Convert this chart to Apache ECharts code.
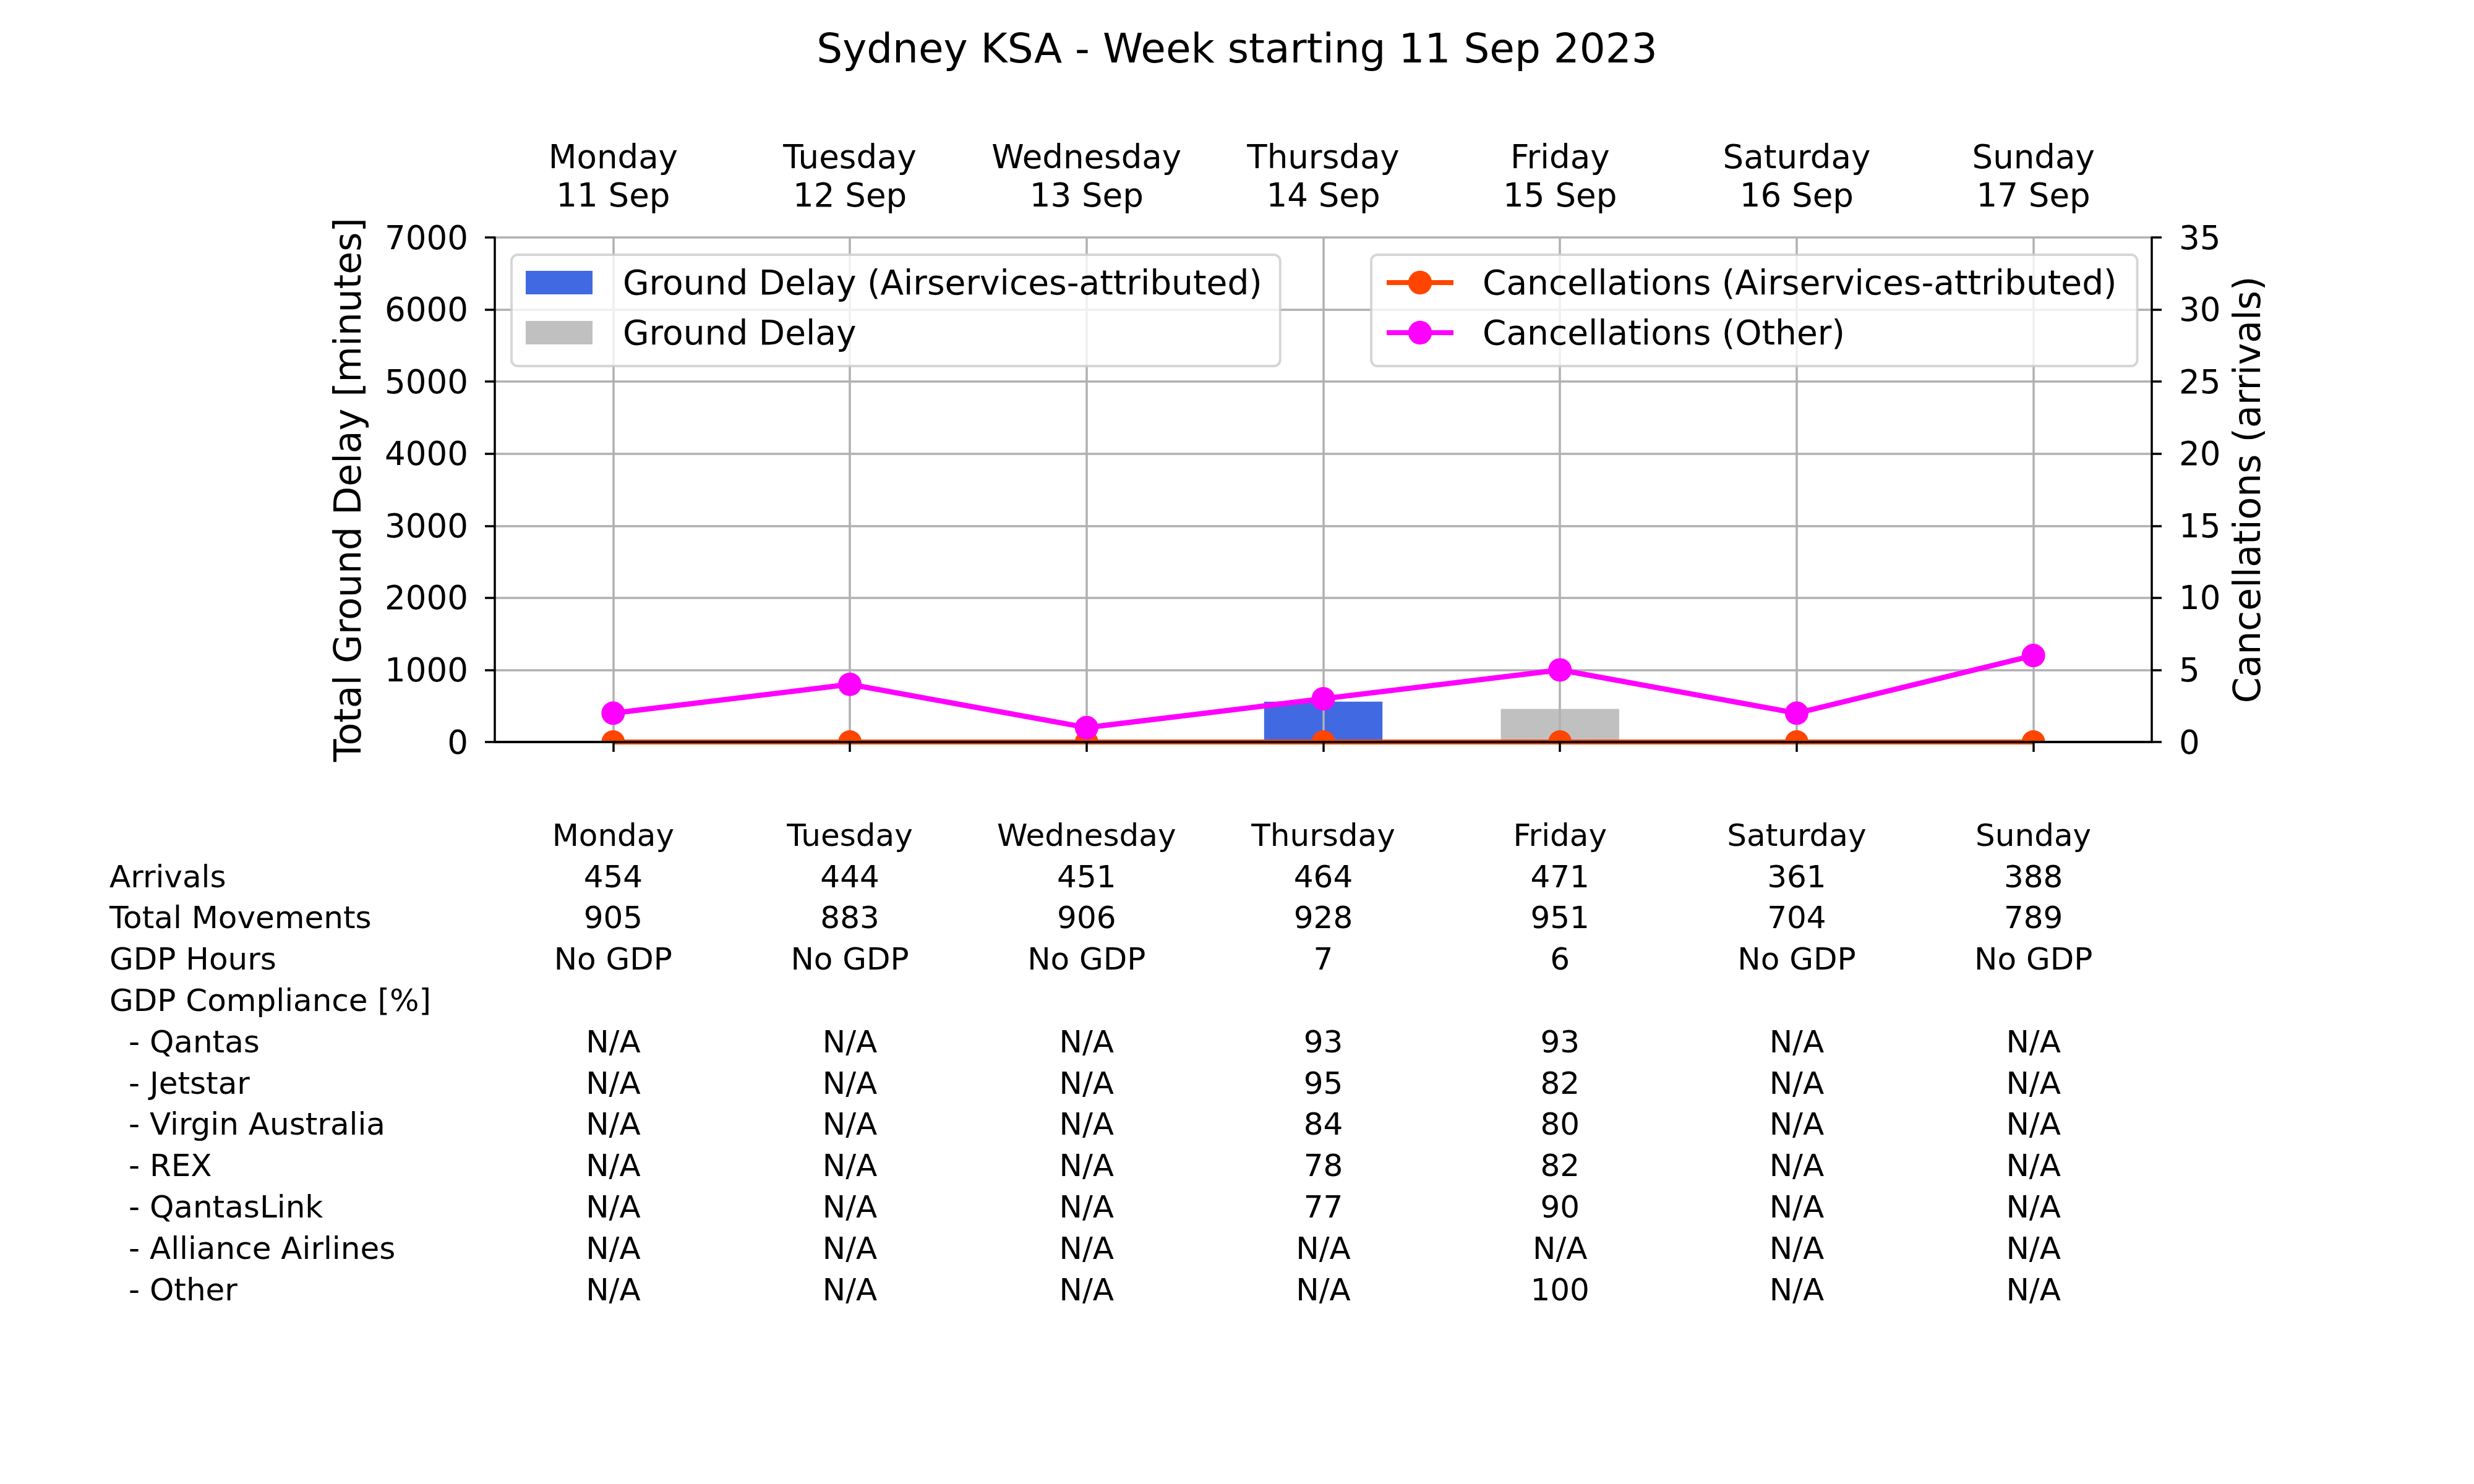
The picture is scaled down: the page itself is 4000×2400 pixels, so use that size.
<!DOCTYPE html>
<html>
<head>
<meta charset="utf-8">
<script src="https://cdn.jsdelivr.net/npm/echarts@6/dist/echarts.min.js"></script>
<style>html,body{margin:0;padding:0;background:#fff}#chart{width:4000px;height:2400px}</style>
</head>
<body>
<div id="chart"></div>
<script>
// ---------------- data ----------------
const days = ['Monday', 'Tuesday', 'Wednesday', 'Thursday', 'Friday', 'Saturday', 'Sunday'];
const dates = ['11 Sep', '12 Sep', '13 Sep', '14 Sep', '15 Sep', '16 Sep', '17 Sep'];
const groundDelayAirservices = [0, 0, 0, 560, 0, 0, 0];
const groundDelayOther = [0, 0, 0, 0, 460, 0, 0];
const cancellationsAirservices = [0, 0, 0, 0, 0, 0, 0];
const cancellationsOther = [2, 4, 1, 3, 5, 2, 6];
const delayAxisMax = 7000, delayAxisStep = 1000;
const cancelAxisMax = 35, cancelAxisStep = 5;

const arrivals = [454, 444, 451, 464, 471, 361, 388];
const totalMovements = [905, 883, 906, 928, 951, 704, 789];
const gdpHours = ['No GDP', 'No GDP', 'No GDP', '7', '6', 'No GDP', 'No GDP'];
const complianceQantas = ['N/A', 'N/A', 'N/A', '93', '93', 'N/A', 'N/A'];
const complianceJetstar = ['N/A', 'N/A', 'N/A', '95', '82', 'N/A', 'N/A'];
const complianceVirgin = ['N/A', 'N/A', 'N/A', '84', '80', 'N/A', 'N/A'];
const complianceRex = ['N/A', 'N/A', 'N/A', '78', '82', 'N/A', 'N/A'];
const complianceQantasLink = ['N/A', 'N/A', 'N/A', '77', '90', 'N/A', 'N/A'];
const complianceAlliance = ['N/A', 'N/A', 'N/A', 'N/A', 'N/A', 'N/A', 'N/A'];
const complianceOther = ['N/A', 'N/A', 'N/A', 'N/A', '100', 'N/A', 'N/A'];

const tableRows = [
  { label: 'Arrivals', values: arrivals },
  { label: 'Total Movements', values: totalMovements },
  { label: 'GDP Hours', values: gdpHours },
  { label: 'GDP Compliance [%]', values: null },
  { label: '- Qantas', values: complianceQantas, sub: true },
  { label: '- Jetstar', values: complianceJetstar, sub: true },
  { label: '- Virgin Australia', values: complianceVirgin, sub: true },
  { label: '- REX', values: complianceRex, sub: true },
  { label: '- QantasLink', values: complianceQantasLink, sub: true },
  { label: '- Alliance Airlines', values: complianceAlliance, sub: true },
  { label: '- Other', values: complianceOther, sub: true }
];

// ---------------- chart ----------------
const FONT = 'DejaVu Sans';
const chart = echarts.init(document.getElementById('chart'), null, { renderer: 'svg', width: 4000, height: 2400 });
const blackLine = { color: '#000', width: 3.5 };
const gridGrey = '#b0b0b0';
const semicircle = 'path://M0,20 A20,20 0 0 1 40,20 Z';
const plain = v => String(v);

const legendCommon = {
  orient: 'vertical', top: 412, itemWidth: 108, itemGap: 21,
  backgroundColor: 'rgba(255,255,255,0.8)',
  borderColor: 'rgba(204,204,204,0.8)', borderWidth: 4, borderRadius: 10,
  selectedMode: false
};

const option = {
  animation: false,
  backgroundColor: '#ffffff',
  textStyle: { fontFamily: FONT, color: '#000' },
  title: {
    text: 'Sydney KSA - Week starting 11 Sep 2023',
    left: 'center', top: 45, padding: 0,
    textStyle: { fontFamily: FONT, fontSize: 66, fontWeight: 'normal', color: '#000' }
  },
  grid: { left: 800, right: 521, top: 384, bottom: 1200, containLabel: false },
  legend: [
    Object.assign({}, legendCommon, {
      data: ['Ground Delay (Airservices-attributed)', 'Ground Delay'],
      left: 827, icon: 'rect', itemHeight: 38,
      padding: [15, 29, 24, 23],
      textStyle: { fontFamily: FONT, fontSize: 55, color: '#000', lineHeight: 60, padding: [0, 0, 0, 44] }
    }),
    Object.assign({}, legendCommon, {
      data: ['Cancellations (Airservices-attributed)', 'Cancellations (Other)'],
      left: 2217, itemHeight: 48,
      padding: [15, 33, 24, 21],
      lineStyle: { width: 8 },
      textStyle: { fontFamily: FONT, fontSize: 55, color: '#000', lineHeight: 60, padding: [0, 0, 0, 42] }
    })
  ],
  xAxis: [
    {
      type: 'category', data: days, position: 'bottom', z: 10,
      axisLine: { show: true, lineStyle: blackLine },
      axisTick: { show: true, alignWithLabel: true, interval: 0, length: 16, lineStyle: blackLine },
      axisLabel: { show: false },
      splitLine: { show: false }
    },
    {
      type: 'category', data: days, position: 'top', z: 10,
      axisLine: { show: true, lineStyle: blackLine },
      axisTick: { show: false },
      axisLabel: {
        show: true, interval: 0, fontFamily: FONT, fontSize: 53, lineHeight: 62, margin: 38, color: '#000',
        formatter: (v, i) => v + '\n' + dates[i]
      },
      splitLine: { show: false }
    }
  ],
  yAxis: [
    {
      type: 'value', position: 'left', min: 0, max: delayAxisMax, interval: delayAxisStep,
      name: 'Total Ground Delay [minutes]', nameLocation: 'middle', nameGap: 208, nameRotate: 90,
      nameTextStyle: { fontFamily: FONT, fontSize: 60, color: '#000' },
      axisLine: { show: true, lineStyle: blackLine },
      axisTick: { show: true, length: 16, lineStyle: blackLine },
      axisLabel: { fontFamily: FONT, fontSize: 53, color: '#000', margin: 43, formatter: plain },
      splitLine: { show: true, lineStyle: { color: gridGrey, width: 3.5 } }
    },
    {
      type: 'value', position: 'right', min: 0, max: cancelAxisMax, interval: cancelAxisStep,
      name: 'Cancellations (arrivals)', nameLocation: 'middle', nameGap: 124, nameRotate: 90,
      nameTextStyle: { fontFamily: FONT, fontSize: 60, color: '#000' },
      axisLine: { show: true, lineStyle: blackLine },
      axisTick: { show: true, length: 16, lineStyle: blackLine },
      axisLabel: { fontFamily: FONT, fontSize: 53, color: '#000', margin: 44, formatter: plain },
      splitLine: { show: false }
    }
  ],
  series: [
    {
      name: 'Ground Delay (Airservices-attributed)', type: 'bar', stack: 'delay',
      xAxisIndex: 0, yAxisIndex: 0, barWidth: '50%', z: 2,
      itemStyle: { color: '#4169e1' },
      data: groundDelayAirservices,
      markLine: {
        silent: true, z: 2.5, symbol: ['none', 'none'], animation: false,
        label: { show: false },
        lineStyle: { color: gridGrey, width: 3.5, type: 'solid' },
        emphasis: { disabled: true },
        data: days.map(d => ({ xAxis: d }))
      }
    },
    {
      name: 'Ground Delay', type: 'bar', stack: 'delay',
      xAxisIndex: 0, yAxisIndex: 0, barWidth: '50%', z: 2,
      itemStyle: { color: '#c0c0c0' },
      data: groundDelayOther
    },
    {
      // legend icon provider (full circle marker), draws nothing
      name: 'Cancellations (Airservices-attributed)', type: 'line',
      xAxisIndex: 0, yAxisIndex: 1, z: 3,
      symbol: 'circle', symbolSize: 38,
      itemStyle: { color: '#ff4500' }, lineStyle: { color: '#ff4500', width: 8 },
      data: []
    },
    {
      name: 'Cancellations (Airservices-attributed)', type: 'line',
      xAxisIndex: 0, yAxisIndex: 1, z: 3,
      symbol: semicircle, symbolSize: [38, 19], symbolOffset: [0, '-50%'],
      itemStyle: { color: '#ff4500' }, lineStyle: { color: '#ff4500', width: 8 },
      data: cancellationsAirservices
    },
    {
      name: 'Cancellations (Other)', type: 'line',
      xAxisIndex: 0, yAxisIndex: 1, z: 3,
      symbol: 'circle', symbolSize: 38,
      itemStyle: { color: '#ff00ff' }, lineStyle: { color: '#ff00ff', width: 8.5 },
      data: cancellationsOther
    }
  ]
};
chart.setOption(option);

// ---------------- table under the chart ----------------
const TABLE_FONT = 50;
const HEADER_BASELINE = 1368;
const ROW_STEP = 66.8;
const LABEL_X = 177;
const SUB_LABEL_X = 208;
const MID_SHIFT = 0.346 * TABLE_FONT;
const colX = days.map(d => chart.convertToPixel({ xAxisIndex: 0 }, d));

function cell(text, x, baseline, align) {
  return {
    type: 'text', x: x, y: baseline - MID_SHIFT, silent: true,
    style: { text: String(text), fontFamily: FONT, fontSize: TABLE_FONT, fill: '#000', align: align, verticalAlign: 'middle' }
  };
}
const elements = [];
days.forEach((d, i) => elements.push(cell(d, colX[i], HEADER_BASELINE, 'center')));
tableRows.forEach((row, r) => {
  const base = HEADER_BASELINE + (r + 1) * ROW_STEP;
  elements.push(cell(row.label, row.sub ? SUB_LABEL_X : LABEL_X, base, 'left'));
  if (row.values) {
    row.values.forEach((v, i) => elements.push(cell(v, colX[i], base, 'center')));
  }
});
chart.setOption({ graphic: { elements: elements } });
</script>
</body>
</html>
